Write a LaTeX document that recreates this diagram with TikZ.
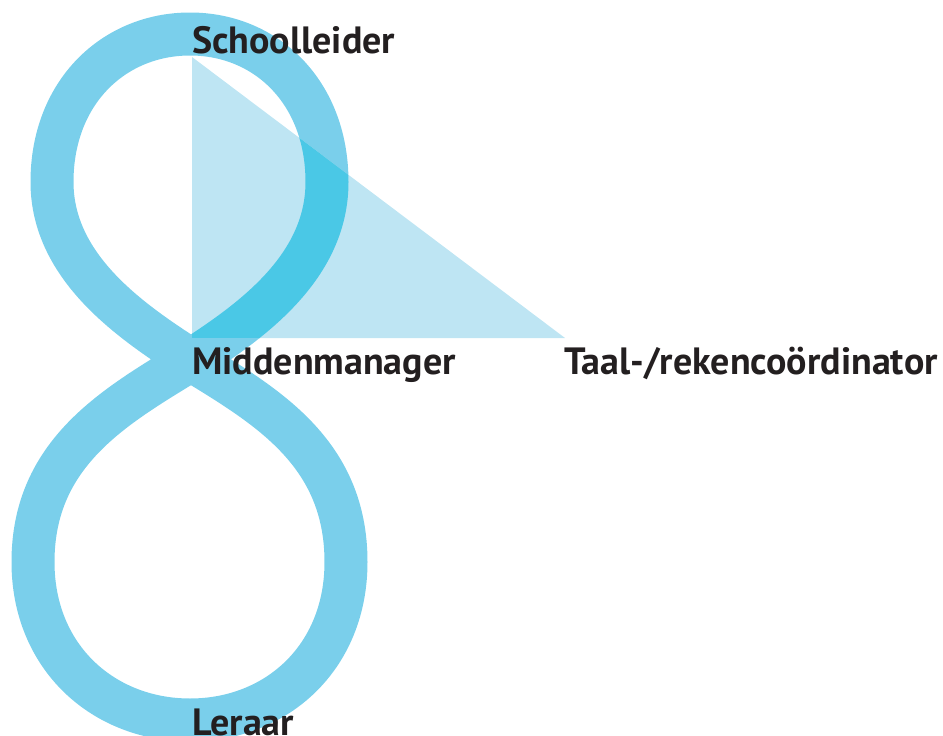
\documentclass[tikz,border=0pt]{standalone}
\usepackage{fontspec}
\setmainfont{PT Sans}
\definecolor{loopc}{HTML}{7ACFEB}
\definecolor{tric}{HTML}{BEE5F3}
\definecolor{overc}{HTML}{4AC8E6}
\definecolor{txtc}{HTML}{231F20}
\begin{document}
\begin{tikzpicture}[x=1pt,y=-1pt,
  lbl/.style={anchor=base west,inner sep=0,text=txtc,font=\fontsize{38}{40}\selectfont\bfseries},
  band/.style={line width=43pt,line join=round}]
\useasboundingbox (0,0) rectangle (943,736);
\coordinate (X) at (191,360);
\coordinate (T1) at (192,57);
\coordinate (T2) at (192,338);
\coordinate (T3) at (565,338);
\def\eightpath{(X) .. controls (250,322) and (327,268) .. (327,182) .. controls (327,92) and (266,34) .. (190,34) .. controls (114,34) and (52,92) .. (52,182) .. controls (52,268) and (132,322) .. (X) .. controls (266,406) and (346,452) .. (346,562) .. controls (346,658) and (276,720) .. (190,720) .. controls (104,720) and (33,658) .. (33,562) .. controls (33,452) and (116,406) .. (X) -- cycle}
\draw[loopc,band] \eightpath;
\fill[tric] (T1) -- (T2) -- (T3) -- cycle;
\begin{scope}
\clip (T1) -- (T2) -- (T3) -- cycle;
\draw[overc,band] \eightpath;
\end{scope}
\node[lbl] (s) at (192,53) {Schoolleider};
\node[lbl] (m) at (192,374) {Middenmanager};
\node[lbl] (t) at (564,374) {Taal-/rekencoördinator};
\node[lbl] (l) at (192,735) {Leraar};
\end{tikzpicture}
\end{document}
